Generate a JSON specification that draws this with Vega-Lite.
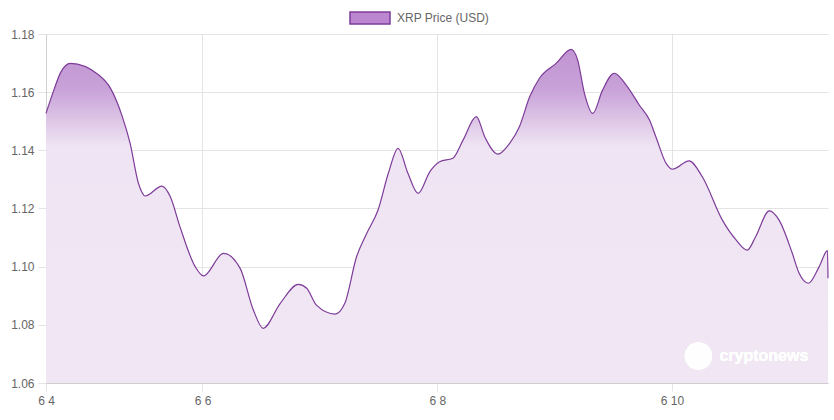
{
  "$schema": "https://vega.github.io/schema/vega-lite/v6.json",
  "width": 782,
  "height": 349,
  "autosize": {"type": "none"},
  "padding": {"left": 46, "top": 34, "right": 6, "bottom": 37},
  "background": "#ffffff",
  "config": {
    "view": {"stroke": null},
    "font": "Liberation Sans",
    "axis": {
      "labelFont": "Liberation Sans",
      "labelFontSize": 12,
      "labelColor": "#666666",
      "gridColor": "#e4e4e4",
      "tickColor": "#e4e4e4",
      "domainColor": "#cfcfcf",
      "tickSize": 8,
      "title": null
    }
  },
  "data": {
    "values": [
      {"t": "2021-06-04T16:00:00Z", "price": 1.1527},
      {"t": "2021-06-04T17:36:00Z", "price": 1.1607},
      {"t": "2021-06-04T19:00:00Z", "price": 1.1668},
      {"t": "2021-06-04T21:00:00Z", "price": 1.1699},
      {"t": "2021-06-05T02:48:00Z", "price": 1.1659},
      {"t": "2021-06-05T05:12:00Z", "price": 1.1613},
      {"t": "2021-06-05T07:36:00Z", "price": 1.1516},
      {"t": "2021-06-05T09:12:00Z", "price": 1.1424},
      {"t": "2021-06-05T10:54:00Z", "price": 1.1287},
      {"t": "2021-06-05T12:18:00Z", "price": 1.1243},
      {"t": "2021-06-05T15:42:00Z", "price": 1.1277},
      {"t": "2021-06-05T17:24:00Z", "price": 1.1241},
      {"t": "2021-06-05T19:24:00Z", "price": 1.1137},
      {"t": "2021-06-05T22:30:00Z", "price": 1.1000},
      {"t": "2021-06-06T00:12:00Z", "price": 1.0968},
      {"t": "2021-06-06T04:18:00Z", "price": 1.1046},
      {"t": "2021-06-06T07:42:00Z", "price": 1.0994},
      {"t": "2021-06-06T10:24:00Z", "price": 1.0851},
      {"t": "2021-06-06T12:24:00Z", "price": 1.0788},
      {"t": "2021-06-06T15:54:00Z", "price": 1.0874},
      {"t": "2021-06-06T19:36:00Z", "price": 1.0939},
      {"t": "2021-06-06T21:18:00Z", "price": 1.0926},
      {"t": "2021-06-06T23:18:00Z", "price": 1.0868},
      {"t": "2021-06-07T03:06:00Z", "price": 1.0837},
      {"t": "2021-06-07T05:06:00Z", "price": 1.0874},
      {"t": "2021-06-07T07:30:00Z", "price": 1.1034},
      {"t": "2021-06-07T09:36:00Z", "price": 1.1115},
      {"t": "2021-06-07T11:54:00Z", "price": 1.1195},
      {"t": "2021-06-07T14:00:00Z", "price": 1.1321},
      {"t": "2021-06-07T16:00:00Z", "price": 1.1407},
      {"t": "2021-06-07T18:00:00Z", "price": 1.1321},
      {"t": "2021-06-07T20:06:00Z", "price": 1.1252},
      {"t": "2021-06-07T22:30:00Z", "price": 1.1327},
      {"t": "2021-06-08T00:30:00Z", "price": 1.1361},
      {"t": "2021-06-08T03:12:00Z", "price": 1.1373},
      {"t": "2021-06-08T05:18:00Z", "price": 1.1436},
      {"t": "2021-06-08T08:00:00Z", "price": 1.1516},
      {"t": "2021-06-08T09:42:00Z", "price": 1.1447},
      {"t": "2021-06-08T12:24:00Z", "price": 1.1387},
      {"t": "2021-06-08T14:48:00Z", "price": 1.1424},
      {"t": "2021-06-08T16:48:00Z", "price": 1.1481},
      {"t": "2021-06-08T18:54:00Z", "price": 1.1584},
      {"t": "2021-06-08T20:54:00Z", "price": 1.1648},
      {"t": "2021-06-09T00:18:00Z", "price": 1.1699},
      {"t": "2021-06-09T03:24:00Z", "price": 1.1747},
      {"t": "2021-06-09T04:42:00Z", "price": 1.1711},
      {"t": "2021-06-09T06:06:00Z", "price": 1.1596},
      {"t": "2021-06-09T07:48:00Z", "price": 1.1527},
      {"t": "2021-06-09T09:48:00Z", "price": 1.1607},
      {"t": "2021-06-09T12:12:00Z", "price": 1.1665},
      {"t": "2021-06-09T14:36:00Z", "price": 1.1625},
      {"t": "2021-06-09T17:18:00Z", "price": 1.1556},
      {"t": "2021-06-09T19:24:00Z", "price": 1.1504},
      {"t": "2021-06-09T20:42:00Z", "price": 1.1447},
      {"t": "2021-06-09T22:48:00Z", "price": 1.1355},
      {"t": "2021-06-10T00:06:00Z", "price": 1.1335},
      {"t": "2021-06-10T03:30:00Z", "price": 1.1364},
      {"t": "2021-06-10T06:12:00Z", "price": 1.1309},
      {"t": "2021-06-10T10:18:00Z", "price": 1.1160},
      {"t": "2021-06-10T13:06:00Z", "price": 1.1092},
      {"t": "2021-06-10T15:24:00Z", "price": 1.1057},
      {"t": "2021-06-10T17:06:00Z", "price": 1.1103},
      {"t": "2021-06-10T19:54:00Z", "price": 1.1192},
      {"t": "2021-06-10T21:54:00Z", "price": 1.1160},
      {"t": "2021-06-11T00:36:00Z", "price": 1.1046},
      {"t": "2021-06-11T02:00:00Z", "price": 1.0977},
      {"t": "2021-06-11T03:54:00Z", "price": 1.0943},
      {"t": "2021-06-11T06:06:00Z", "price": 1.1000},
      {"t": "2021-06-11T07:48:00Z", "price": 1.1055},
      {"t": "2021-06-11T07:54:00Z", "price": 1.0960}
    ]
  },
  "encoding": {
    "x": {
      "field": "t",
      "type": "temporal",
      "scale": {
        "type": "utc",
        "domain": [
          {"year": 2021, "month": 6, "date": 4, "hours": 16, "utc": true},
          {"year": 2021, "month": 6, "date": 11, "hours": 7, "minutes": 54, "utc": true}
        ],
        "nice": false
      },
      "axis": {
        "values": [
          {"year": 2021, "month": 6, "date": 4, "hours": 16, "utc": true},
          {"year": 2021, "month": 6, "date": 6, "utc": true},
          {"year": 2021, "month": 6, "date": 8, "utc": true},
          {"year": 2021, "month": 6, "date": 10, "utc": true}
        ],
        "format": "%-m %-d",
        "labelPadding": 4,
        "labelAngle": 0,
        "labelAlign": "center",
        "labelFlush": false,
        "labelOverlap": false
      }
    },
    "y": {
      "field": "price",
      "type": "quantitative",
      "scale": {"domain": [1.06, 1.18], "nice": false, "zero": false},
      "axis": {
        "values": [1.06, 1.08, 1.1, 1.12, 1.14, 1.16, 1.18],
        "format": ".2f",
        "labelPadding": 4
      }
    }
  },
  "layer": [
    {
      "mark": {
        "type": "area",
        "interpolate": "monotone",
        "color": {
          "gradient": "linear",
          "x1": 0, "y1": 0, "x2": 0, "y2": 1,
          "stops": [
            {"offset": 0, "color": "#c194d2"},
            {"offset": 0.12, "color": "#c8a2d8"},
            {"offset": 0.29, "color": "#efe4f3"},
            {"offset": 1, "color": "#f1e7f4"}
          ]
        }
      },
      "encoding": {
        "y2": {"datum": 1.06}
      }
    },
    {
      "mark": {"type": "line", "interpolate": "monotone", "strokeWidth": 1.2},
      "encoding": {
        "stroke": {
          "datum": "XRP Price (USD)",
          "scale": {"range": ["#7d3c98"]},
          "legend": {
            "orient": "none",
            "legendX": 303,
            "legendY": -37,
            "title": null,
            "symbolType": "M-1,-0.3L1,-0.3L1,0.3L-1,0.3Z",
            "symbolSize": 1600,
            "labelFont": "Liberation Sans",
            "labelFontSize": 12,
            "labelColor": "#666666",
            "labelOffset": 6,
            "encode": {
              "symbols": {
                "update": {
                  "fill": {"value": "#bd86d1"},
                  "stroke": {"value": "#8e44ad"},
                  "strokeWidth": {"value": 1.5},
                  "opacity": {"value": 1}
                }
              }
            }
          }
        }
      }
    },
    {
      "mark": {"type": "point", "shape": "circle", "filled": true, "fill": "#ffffff", "fillOpacity": 0.4, "strokeWidth": 0, "size": 750},
      "encoding": {
        "x": {"datum": {"year": 2021, "month": 6, "date": 10, "hours": 5, "minutes": 24, "utc": true}, "type": "temporal"},
        "y": {"datum": 1.0693, "type": "quantitative"}
      }
    },
    {
      "mark": {"type": "text", "text": "cryptonews", "align": "left", "baseline": "middle", "font": "Liberation Sans", "fontWeight": "bold", "fontSize": 16, "fill": "#ffffff", "fillOpacity": 0.5},
      "encoding": {
        "x": {"datum": {"year": 2021, "month": 6, "date": 10, "hours": 9, "minutes": 42, "utc": true}, "type": "temporal"},
        "y": {"datum": 1.0693, "type": "quantitative"}
      }
    }
  ]
}
